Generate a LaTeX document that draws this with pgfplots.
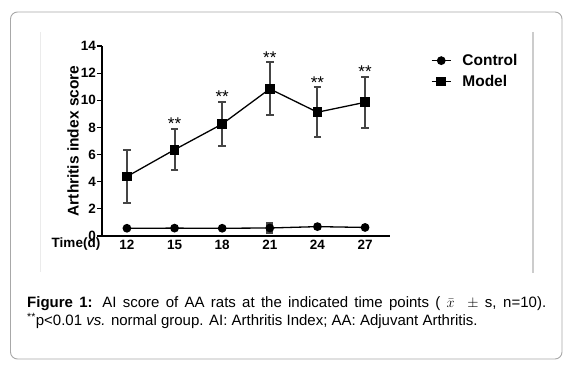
\documentclass[border=0pt]{standalone}
\usepackage{fontspec}
\setmainfont{Liberation Sans}
\usepackage{pgfplots}
\pgfplotsset{compat=1.18}
\definecolor{errgray}{HTML}{454545}
\definecolor{framegray}{HTML}{A8A8A8}
\begin{document}
\begin{tikzpicture}
\begin{axis}[
  name=ax,
  scale only axis, width=288pt, height=190pt,
  xmin=10.43, xmax=28.57, ymin=0, ymax=14,
  axis lines=left, axis line style={-, line width=1.3pt},
  xtick={12,15,18,21,24,27}, ytick={0,2,...,14},
  tick align=outside, major tick length=5pt,
  tick style={black, line width=1.2pt},
  xtick style={draw=none},
  /pgf/number format/assume math mode=true,
  ticklabel style={font=\bfseries\fontsize{13.5}{15}\selectfont},
  xticklabel style={anchor=base, yshift=-8.5pt},
  yticklabel style={anchor=east, inner sep=0pt, xshift=-1pt},
  ylabel={Arthritis index score},
  ylabel style={at={(rel axis cs:-0.1007,0.5)}, anchor=center, font=\bfseries\fontsize{15.5}{18}\selectfont},
  xlabel={Time(d)},
  xlabel style={at={(rel axis cs:-0.0903,0)}, anchor=base, yshift=-11.5pt, font=\bfseries\fontsize{13.5}{15}\selectfont},
  legend style={at={(rel axis cs:1.142,0.968)}, anchor=north west, draw=none, fill=none, inner sep=0pt, font=\bfseries\fontsize{15.5}{18}\selectfont, row sep=4pt},
  legend cell align=left,
  legend image code/.code={\draw[mark repeat=2,mark phase=2] plot coordinates {(0pt,0pt)(9.5pt,0pt)(19pt,0pt)}; \path (28pt,0pt);},
]
\addplot[black, line width=1.3pt, mark=*, mark size=3.7pt,
  error bars/.cd, y dir=both, y explicit,
  error bar style={errgray, line width=7pt}, error mark=none]
  coordinates {(12,0.57) +- (0,0) (15,0.58) +- (0,0) (18,0.57) +- (0,0) (21,0.59) +- (0,0.46) (24,0.69) +- (0,0) (27,0.63) +- (0,0)};
\addlegendentry{Control}
\addplot[black, line width=1.3pt, mark=square*, mark size=4.2pt,
  error bars/.cd, y dir=both, y explicit,
  error bar style={errgray, line width=2pt},
  error mark options={rotate=90, mark size=3.8pt, line width=2pt, errgray}]
  coordinates {(12,4.38) +- (0,1.97) (15,6.36) +- (0,1.52) (18,8.25) +- (0,1.62) (21,10.84) +- (0,1.95) (24,9.12) +- (0,1.84) (27,9.85) +- (0,1.9)};
\addlegendentry{Model}
\addplot[draw=none, mark=none, forget plot,
  nodes near coords={**},
  every node near coord/.append style={anchor=south, inner sep=0pt, yshift=-1pt, font=\fontsize{17}{18}\selectfont}]
  coordinates {(15,7.9) (18,9.9) (21,12.8) (24,10.95) (27,11.75)};
\end{axis}
\begin{scope}[shift={(ax.south west)}, x=1pt, y=1pt]
\pgfresetboundingbox
\path[use as bounding box] (-102,-130) rectangle (472,236);
\draw[framegray, line width=0.9pt, rounded corners=7pt] (-91.5,-123) rectangle (460,224);
\draw[black!8, line width=0.8pt] (-62,204) -- (-62,-36);
\draw[black!20, line width=1.6pt] (431,204) -- (431,-37);
\node[anchor=base west, inner sep=0pt] at (-75,-72) {\parbox[t]{519pt}{\fontsize{15}{17.7}\selectfont\textbf{Figure 1:} AI score of AA rats at the indicated time points ( $\bar{x}$\ \ $\pm$ s, n=10).\linebreak \textsuperscript{**}p<0.01 \textit{vs.} normal group. AI: Arthritis Index; AA: Adjuvant Arthritis.}};
\end{scope}
\end{tikzpicture}
\end{document}
